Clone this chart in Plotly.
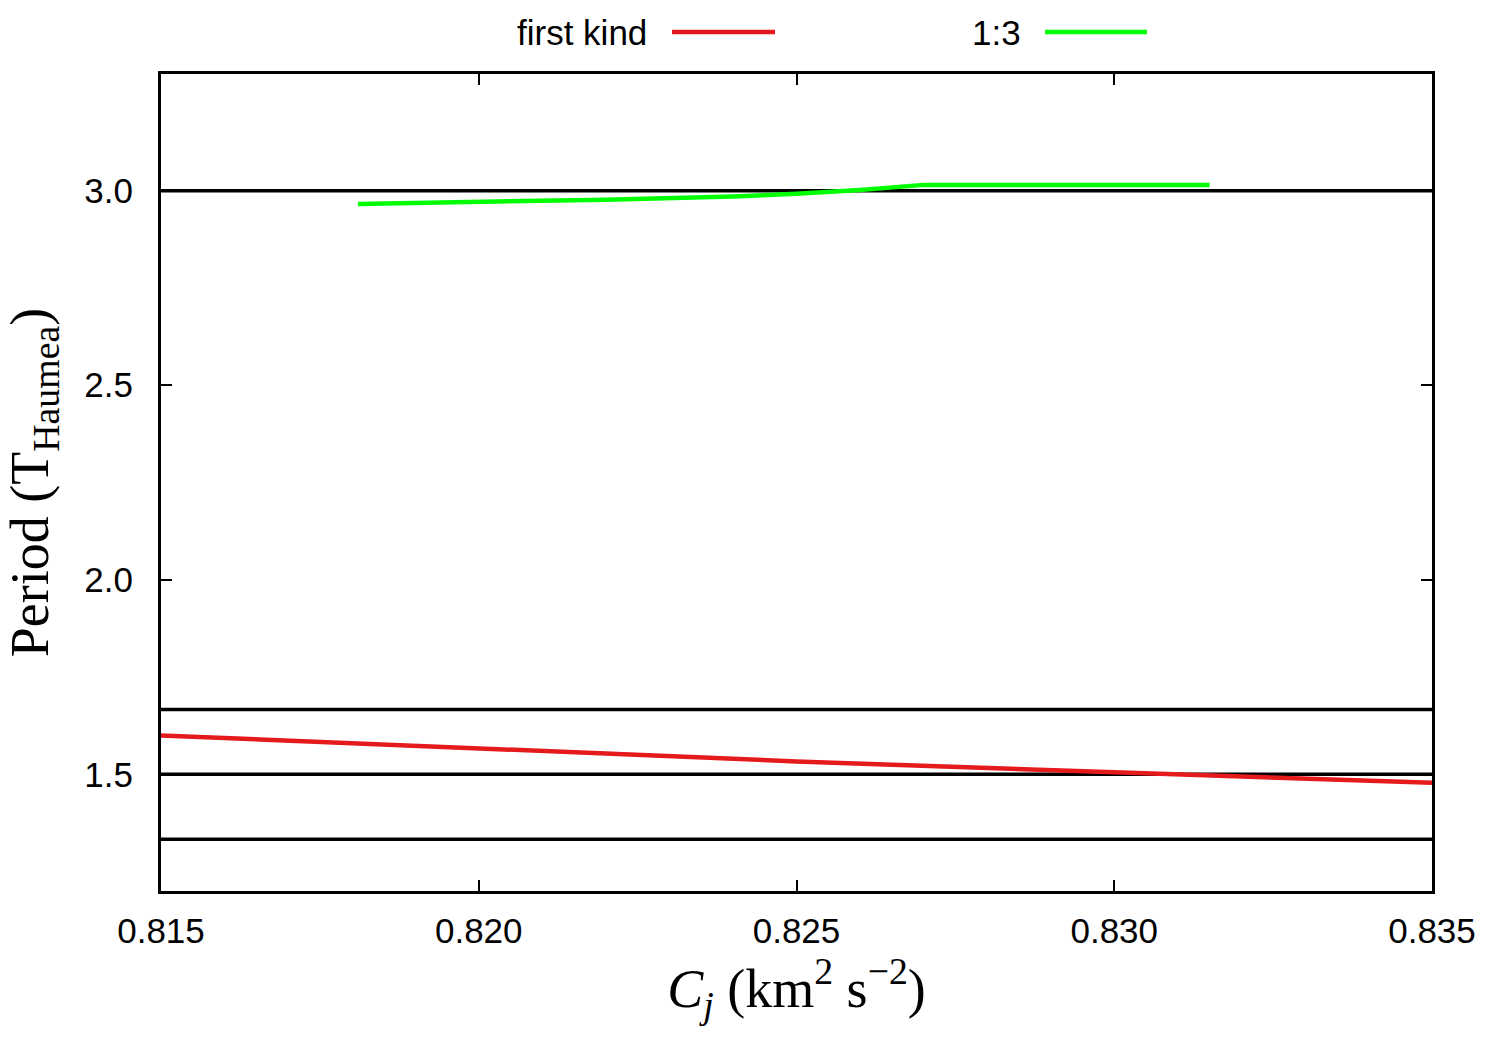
import plotly.graph_objects as go

# data
first_kind_x = [0.815, 0.820, 0.825, 0.830, 0.835]
first_kind_y = [1.600, 1.566, 1.533, 1.505, 1.478]

res13_x = [0.8181, 0.820, 0.822, 0.824, 0.825, 0.826, 0.827, 0.8315]
res13_y = [2.966, 2.971, 2.977, 2.985, 2.992, 3.002, 3.015, 3.015]

ref_levels = [3.0, 5/3, 1.5, 4/3]

x_ticks = [0.815, 0.820, 0.825, 0.830, 0.835]
x_tick_labels = ["0.815", "0.820", "0.825", "0.830", "0.835"]
y_ticks = [1.5, 2.0, 2.5, 3.0]
y_tick_labels = ["1.5", "2.0", "2.5", "3.0"]

fig = go.Figure()

for lv in ref_levels:
    fig.add_trace(go.Scatter(x=[0.815, 0.835], y=[lv, lv], mode="lines",
                             line=dict(color="black", width=3.5), showlegend=False,
                             hoverinfo="skip"))

fig.add_trace(go.Scatter(x=first_kind_x, y=first_kind_y, mode="lines",
                         line=dict(color="#e41a1c", width=4.5), name="first kind",
                         showlegend=False))
fig.add_trace(go.Scatter(x=res13_x, y=res13_y, mode="lines",
                         line=dict(color="#00ff00", width=4.5), name="1:3",
                         showlegend=False))

L, R, T, B = 161, 68, 74, 159
W, H = 1500, 1050
pw, ph = W - L - R, H - T - B

def px2paper(px, py):
    return (px - L) / pw, (H - B - py) / ph

# legend drawn manually (text left, sample right)
legend_items = [("first kind", "#e41a1c", 649, 672, 775), ("1:3", "#00ff00", 1023, 1045, 1147)]
for text, col, tx, x0, x1 in legend_items:
    ax, ay = px2paper(tx, 33)
    fig.add_annotation(x=ax, y=ay, xref="paper", yref="paper", text=text,
                       showarrow=False, xanchor="right", yanchor="middle",
                       font=dict(family="Liberation Sans, Arial", size=35, color="black"))
    sx0, sy = px2paper(x0, 32)
    sx1, _ = px2paper(x1, 32)
    fig.add_shape(type="line", xref="paper", yref="paper", x0=sx0, x1=sx1, y0=sy, y1=sy,
                  line=dict(color=col, width=4.5))

axis_common = dict(showgrid=False, zeroline=False, showline=True, linecolor="black",
                   linewidth=3, mirror="allticks", ticks="inside", ticklen=11,
                   tickwidth=2, tickcolor="black",
                   tickfont=dict(family="Liberation Sans, Arial", size=35, color="black"))

fig.update_xaxes(range=[0.815, 0.835], tickvals=x_ticks, ticktext=x_tick_labels,
                 title=dict(text="<i>C<sub>j</sub></i> (km<sup>2</sup> s<sup>−2</sup>)",
                            font=dict(family="Liberation Serif, Times New Roman", size=54, color="black"),
                            standoff=6),
                 ticklabelstandoff=7, **axis_common)
fig.update_yaxes(range=[1.2, 3.3], tickvals=y_ticks, ticktext=y_tick_labels,
                 title=dict(text="Period (T<sub>Haumea</sub>)",
                            font=dict(family="Liberation Serif, Times New Roman", size=54, color="black"),
                            standoff=22),
                 ticklabelstandoff=18, **axis_common)

fig.update_layout(width=W, height=H, margin=dict(l=L, r=R, t=T, b=B, autoexpand=False),
                  plot_bgcolor="white", paper_bgcolor="white", showlegend=False)

fig.write_html("out.html")
